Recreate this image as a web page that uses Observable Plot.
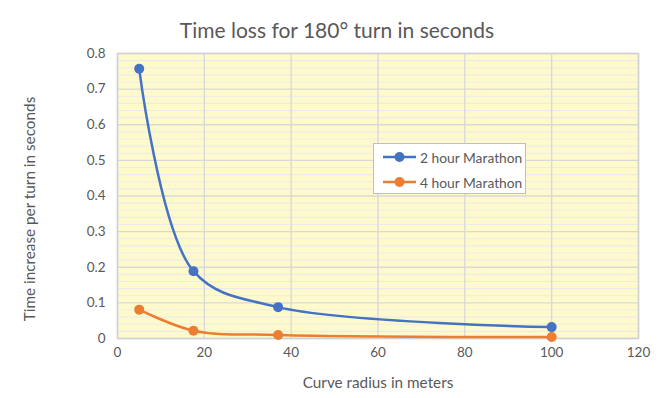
<!DOCTYPE html>
<html>
<head>
<meta charset="utf-8">
<script src="https://cdn.jsdelivr.net/npm/d3@7"></script>
<script src="https://cdn.jsdelivr.net/npm/@observablehq/plot@0.6"></script>
<style>
  html, body { margin: 0; padding: 0; background: #fff; }
  #wrap { position: relative; width: 660px; height: 398px; font-family: Lato, "Open Sans", sans-serif; color: #595959; }
  #title { height: 40px; line-height: 1; text-align: center; font-size: 21px; box-sizing: border-box; padding-left: 14px; }
  #title span { position: relative; top: 19px; }
  #legend { position: absolute; left: 373px; top: 143px; width: 151px; height: 49px; background: #fff; border: 1px solid #bfbfbf; font-size: 13.8px; }
  .row { position: absolute; left: 9px; height: 20px; display: flex; align-items: center; }
  .row svg { margin-right: 4px; }
  #chart g[aria-label="x-axis label"] text { font-size: 15.3px; }
  #chart g[aria-label="x-axis tick label"] text, #chart g[aria-label="y-axis tick label"] text { font-size: 13.5px; }
</style>
</head>
<body>
<div id="wrap">
  <div id="title"><span>Time loss for 180° turn in seconds</span></div>
  <div id="chart"></div>
  <div id="legend"></div>
</div>
<script>
const radius = [5, 17.5, 37, 100];
const twoHour = [0.757, 0.189, 0.088, 0.032];
const fourHour = [0.081, 0.022, 0.010, 0.004];
const seriesNames = ["2 hour Marathon", "4 hour Marathon"];
const seriesColors = ["#4472C4", "#ED7D31"];
const xTicks = [0, 20, 40, 60, 80, 100, 120];
const yTicks = [0, 0.1, 0.2, 0.3, 0.4, 0.5, 0.6, 0.7, 0.8];
const yMinor = d3.range(1, 40).map(i => i * 0.02).filter(v => Math.abs(v * 10 - Math.round(v * 10)) > 1e-6);
const xTitle = "Curve radius in meters";
const yTitle = "Time increase per turn in seconds";

const data = [];
radius.forEach((r, i) => data.push({series: seriesNames[0], x: r, y: twoHour[i]}));
radius.forEach((r, i) => data.push({series: seriesNames[1], x: r, y: fourHour[i]}));

const chart = Plot.plot({
  width: 660,
  height: 358,
  marginLeft: 117,
  marginRight: 22,
  marginTop: 13,
  marginBottom: 60,
  x: {domain: [0, 120]},
  y: {domain: [0, 0.8]},
  color: {domain: seriesNames, range: seriesColors},
  style: {fontFamily: "Lato, 'Open Sans', sans-serif", fontSize: "13px", color: "#595959", background: "transparent", overflow: "visible"},
  marks: [
    Plot.frame({fill: "#FFFACC", stroke: null}),
    Plot.ruleY(yMinor, {stroke: "#ebebeb", strokeWidth: 1.2}),
    Plot.gridY(yTicks, {stroke: "#d9d9d9", strokeOpacity: 1, strokeWidth: 1.4}),
    Plot.gridX(xTicks, {stroke: "#d9d9d9", strokeOpacity: 1, strokeWidth: 1.4}),
    Plot.frame({stroke: "#d0d0d0", strokeWidth: 1.4}),
    Plot.axisX({ticks: xTicks, tickSize: 0, tickPadding: 9, label: xTitle, labelAnchor: "center", labelArrow: "none", labelOffset: 49, fill: "#595959"}),
    Plot.axisY({ticks: yTicks, tickSize: 0, tickPadding: 12, tickFormat: d => String(+d.toFixed(1)), label: null, fill: "#595959"}),
    Plot.text([yTitle], {frameAnchor: "left", rotate: -90, dx: -87, dy: 13, lineAnchor: "middle", textAnchor: "middle", fontSize: 15.3, fill: "#595959"}),
    Plot.line(data, {x: "x", y: "y", z: "series", stroke: "series", curve: "catmull-rom", strokeWidth: 2.5}),
    Plot.dot(data, {x: "x", y: "y", fill: "series", r: 5})
  ]
});
document.getElementById("chart").appendChild(chart);

const legend = document.getElementById("legend");
seriesNames.forEach((name, i) => {
  const row = document.createElement("div");
  row.className = "row";
  row.style.top = (i === 0 ? 3 : 28) + "px";
  row.innerHTML = `<svg width="33" height="12"><line x1="0" x2="33" y1="6" y2="6" stroke="${seriesColors[i]}" stroke-width="2.5"/><circle cx="16.5" cy="6" r="5" fill="${seriesColors[i]}"/></svg><span>${name}</span>`;
  legend.appendChild(row);
});
</script>
</body>
</html>
